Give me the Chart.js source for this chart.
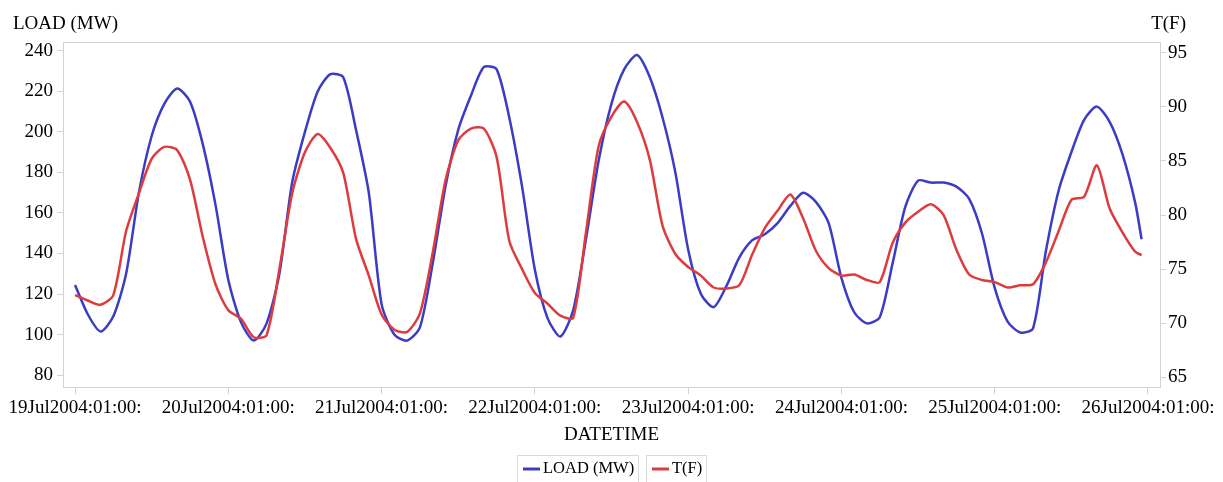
<!DOCTYPE html>
<html>
<head>
<meta charset="utf-8">
<title>LOAD and T(F) by DATETIME</title>
<script src="https://cdn.jsdelivr.net/npm/chart.js@4.4.1/dist/chart.umd.min.js"></script>
<style>
  html, body { margin: 0; padding: 0; background: #fff; }
  #wrap { width: 1223px; height: 482px; }
</style>
</head>
<body>
<div id="wrap"><canvas id="chart" width="1223" height="482"></canvas></div>
<script>
// =====================
// DATA (hours after 19Jul2004:01:00)
// =====================
const HOURS = [0, 2, 4, 6, 8, 10, 12, 14, 16, 18, 20, 22, 24, 26, 28, 30, 32, 34, 36, 38,
  40, 42, 44, 46, 48, 50, 52, 54, 56, 58, 60, 62, 64, 66, 68, 70, 72, 74, 76, 78,
  80, 82, 84, 86, 88, 90, 92, 94, 96, 98, 100, 102, 104, 106, 108, 110, 112, 114, 116, 118,
  120, 122, 124, 126, 128, 130, 132, 134, 136, 138, 140, 142, 144, 146, 148, 150, 152, 154, 156, 158,
  160, 162, 164, 166, 167];

const LOAD = [124.5, 110, 101.5, 109, 130, 170, 198, 214, 221.5, 215, 194, 164, 127, 106, 97, 105.5, 130, 175, 200, 220,
  228.5, 227, 201, 170, 115, 100, 97, 103.5, 135, 173, 201, 218, 232, 231, 207, 173, 132, 108, 99, 112,
  147, 186, 214, 231, 238, 227, 207, 180, 142, 120, 113.5, 124, 138, 146.5, 149.5, 155, 163.5, 170, 165.5, 155,
  128, 111, 105.5, 108.5, 135, 163, 176, 175, 175, 173, 167, 150, 123, 106.5, 101, 103, 141, 171, 190, 206,
  212.5, 205, 189, 165, 147];

const TEMP = [72.6, 72.1, 71.7, 72.6, 78.5, 82, 85.2, 86.3, 86, 83.3, 78, 73.6, 71.2, 70.4, 68.7, 68.9, 75, 82, 85.8, 87.5,
  86.2, 83.9, 77.8, 74.4, 70.8, 69.4, 69.2, 70.9, 76.5, 83.2, 86.9, 88, 88, 85.4, 77.6, 75, 72.8, 71.8, 70.7, 70.5,
  78.4, 86.4, 89.1, 90.5, 88.6, 85.1, 79, 76.4, 75.2, 74.4, 73.3, 73.2, 73.5, 76.3, 78.8, 80.4, 81.9, 79.7, 76.7, 75.1,
  74.4, 74.5, 74, 73.8, 77.4, 79.3, 80.3, 81, 80, 76.8, 74.5, 74, 73.8, 73.3, 73.5, 73.6, 75.6, 78.5, 81.4, 81.7,
  84.6, 80.6, 78.4, 76.6, 76.3];

const DAY_HOURS = [0, 24, 48, 72, 96, 120, 144, 168];
const DAY_LABELS = ["19Jul2004:01:00:", "20Jul2004:01:00:", "21Jul2004:01:00:", "22Jul2004:01:00:",
  "23Jul2004:01:00:", "24Jul2004:01:00:", "25Jul2004:01:00:", "26Jul2004:01:00:"];
const LOAD_TICKS = [80, 100, 120, 140, 160, 180, 200, 220, 240];
const TEMP_TICKS = [65, 70, 75, 80, 85, 90, 95];

// =====================
// STYLE
// =====================
const SERIF = "'Liberation Serif', 'DejaVu Serif', serif";
const TEXT = "#000";
const AXIS = "#d2d2d2";
const BLUE = "#3b3cc6";
const RED = "#dd3b3d";

Chart.defaults.font.family = SERIF;
Chart.defaults.font.size = 19;
Chart.defaults.color = TEXT;

const pairs = (ys) => HOURS.map((h, i) => ({ x: h, y: ys[i] }));

// titles, frame and boxed legend
const decorations = {
  id: "decorations",
  afterDraw(chart) {
    const { ctx, chartArea: a } = chart;
    ctx.save();
    ctx.strokeStyle = AXIS;
    ctx.lineWidth = 1;
    ctx.beginPath();
    ctx.moveTo(a.left, a.top + 0.5);
    ctx.lineTo(a.right, a.top + 0.5);
    ctx.stroke();

    ctx.fillStyle = TEXT;
    ctx.font = "19px " + SERIF;
    ctx.textBaseline = "middle";
    ctx.textAlign = "left";
    ctx.fillText("LOAD (MW)", 13, 24);
    ctx.textAlign = "right";
    ctx.fillText("T(F)", 1186, 24);
    ctx.textAlign = "center";
    ctx.fillText("DATETIME", (a.left + a.right) / 2, 435);

    // legend
    ctx.font = "16.5px " + SERIF;
    const items = chart.data.datasets.map(d => ({
      label: d.label, color: d.borderColor, w: Math.round(6 + 17 + 3 + ctx.measureText(d.label).width + 4)
    }));
    const gap = 8;
    const total = items.reduce((s, it) => s + it.w, 0) + gap * (items.length - 1);
    let x = Math.round((a.left + a.right) / 2 - total / 2);
    const top = 455, y = 469;
    items.forEach(it => {
      ctx.strokeStyle = "#dadada";
      ctx.lineWidth = 1;
      ctx.strokeRect(x + 0.5, top + 0.5, it.w, 40);
      ctx.strokeStyle = it.color;
      ctx.lineWidth = 3;
      ctx.beginPath();
      ctx.moveTo(x + 6, y);
      ctx.lineTo(x + 23, y);
      ctx.stroke();
      ctx.fillStyle = TEXT;
      ctx.textAlign = "left";
      ctx.fillText(it.label, x + 26, y);
      x += it.w + gap;
    });
    ctx.restore();
  }
};

// =====================
// CHART
// =====================
new Chart(document.getElementById("chart"), {
  type: "line",
  data: {
    datasets: [
      {
        label: "LOAD (MW)",
        data: pairs(LOAD),
        yAxisID: "y",
        borderColor: BLUE,
        borderWidth: 2.5,
        pointRadius: 0,
        tension: 0.25,
        order: 1
      },
      {
        label: "T(F)",
        data: pairs(TEMP),
        yAxisID: "y1",
        borderColor: RED,
        borderWidth: 2.5,
        pointRadius: 0,
        tension: 0.25,
        order: 0
      }
    ]
  },
  options: {
    responsive: false,
    devicePixelRatio: 1,
    animation: false,
    layout: { padding: { top: 42, left: 0, right: 0, bottom: 0 } },
    plugins: { legend: { display: false }, tooltip: { enabled: false } },
    scales: {
      x: {
        type: "linear",
        min: -1.88,
        max: 169.88,
        afterBuildTicks: s => { s.ticks = DAY_HOURS.map(v => ({ value: v })); },
        afterFit: s => { s.height = 95; },
        ticks: {
          autoSkip: false,
          maxRotation: 0,
          padding: 3,
          callback: v => DAY_LABELS[DAY_HOURS.indexOf(v)]
        },
        grid: { drawOnChartArea: false, tickLength: 7, color: AXIS },
        border: { color: AXIS }
      },
      y: {
        position: "left",
        min: 74.1,
        max: 244.4,
        afterBuildTicks: s => { s.ticks = LOAD_TICKS.map(v => ({ value: v })); },
        afterFit: s => { s.width = 63; },
        ticks: { padding: 4 },
        grid: { drawOnChartArea: false, tickLength: 6, color: AXIS },
        border: { color: AXIS }
      },
      y1: {
        position: "right",
        min: 64.1,
        max: 96.0,
        afterBuildTicks: s => { s.ticks = TEMP_TICKS.map(v => ({ value: v })); },
        afterFit: s => { s.width = 63; },
        ticks: { padding: 2 },
        grid: { drawOnChartArea: false, tickLength: 6, color: AXIS },
        border: { color: AXIS }
      }
    }
  },
  plugins: [decorations]
});
</script>
</body>
</html>
